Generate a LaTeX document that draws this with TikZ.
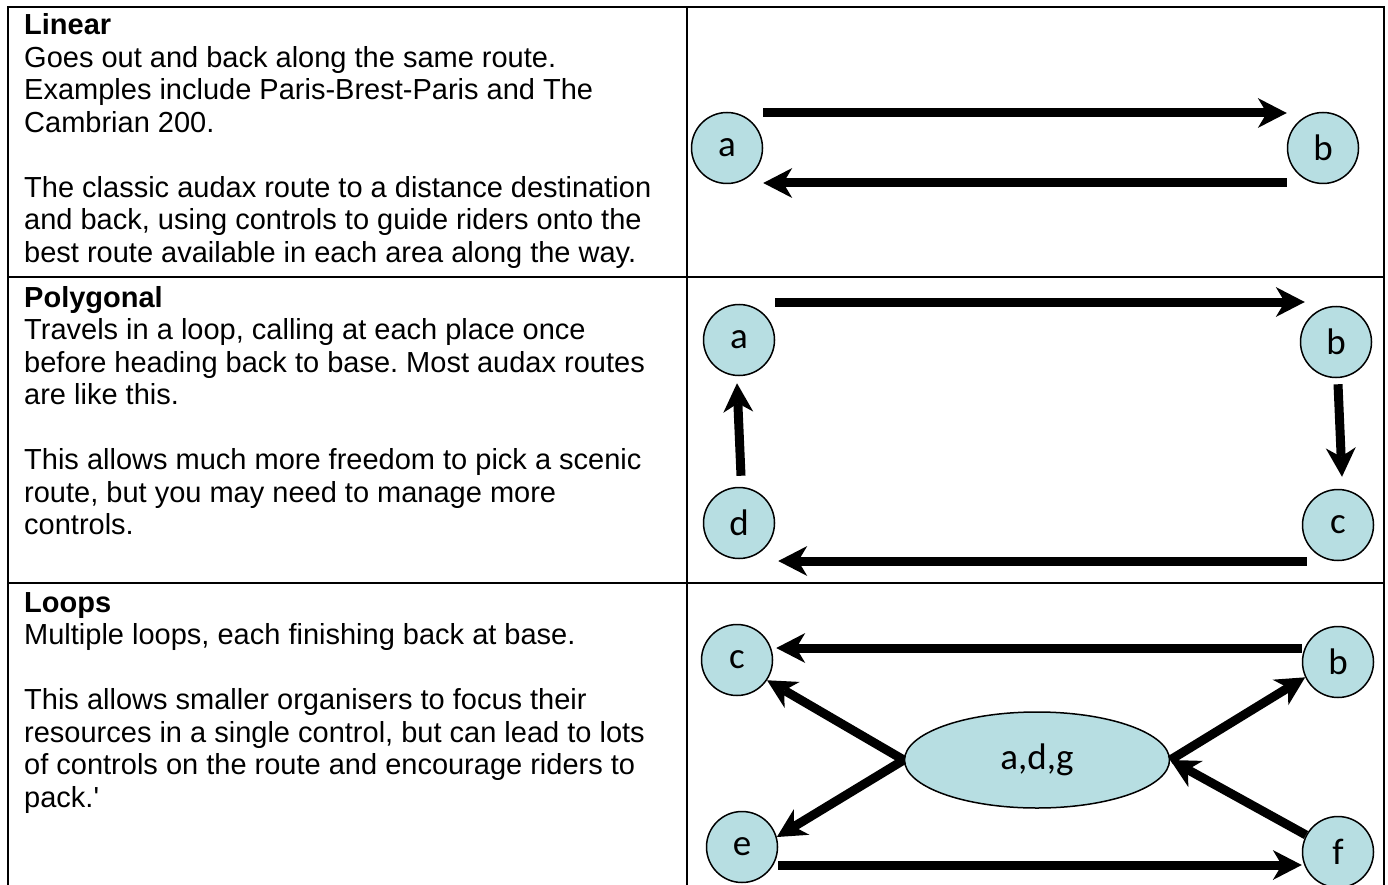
\documentclass[tikz,border=0pt]{standalone}
\usepackage{fontspec}
\setmainfont{Liberation Sans}
\newfontfamily\nodefont{Carlito}
\usetikzlibrary{arrows.meta,shapes.geometric,calc}
\definecolor{nodefill}{RGB}{183,222,226}
\begin{document}
\frenchspacing
\begin{tikzpicture}[x=1pt,y=-1pt,
  grid/.style={line width=2pt,line cap=rect},
  place/.style={circle,draw=black,line width=1.5pt,fill=nodefill,minimum size=71pt,inner sep=0pt,font=\nodefont\fontsize{37}{40}\selectfont},
  hub/.style={ellipse,draw=black,line width=1.5pt,fill=nodefill,minimum width=265pt,minimum height=96pt,inner sep=0pt,font=\nodefont\fontsize{37}{40}\selectfont},
  route/.style={line width=9pt,-{Stealth[length=29pt,width=30pt,inset=9pt,line width=0pt]}},
  celltext/.style={anchor=base west,inner sep=0pt}
]
\useasboundingbox (0,0) rectangle (1388,885);
% table
\draw[grid] (8,7) -- (1384,7);
\draw[grid] (8,277) -- (1384,277);
\draw[grid] (8,583) -- (1384,583);
\draw[grid] (8,7) -- (8,885);
\draw[grid] (687,7) -- (687,885);
\draw[grid] (1384,7) -- (1384,885);
% texts
\node[celltext] (t1) at (24,35) {\parbox[t]{800pt}{\fontsize{29}{32.5}\selectfont\raggedright\frenchspacing
\textbf{Linear}\\
Goes out and back along the same route.\\
Examples include Paris-Brest-Paris and The\\
Cambrian 200.\\[32.5pt]
The classic audax route to a distance destination\\
and back, using controls to guide riders onto the\\
best route available in each area along the way.}};
\node[celltext] (t2) at (24,307) {\parbox[t]{800pt}{\fontsize{29}{32.5}\selectfont\raggedright\frenchspacing
\textbf{Polygonal}\\
Travels in a loop, calling at each place once\\
before heading back to base. Most audax routes\\
are like this.\\[32.5pt]
This allows much more freedom to pick a scenic\\
route, but you may need to manage more\\
controls.}};
\node[celltext] (t3) at (24,612) {\parbox[t]{800pt}{\fontsize{29}{32.5}\selectfont\raggedright\frenchspacing
\textbf{Loops}\\
Multiple loops, each finishing back at base.\\[32.5pt]
This allows smaller organisers to focus their\\
resources in a single control, but can lead to lots\\
of controls on the route and encourage riders to\\
pack.\textquotesingle}};
% Linear
\node[place] (la) at (727,148) {a};
\node[place] (lb) at (1323,148) {b};
\draw[route] ($(la.east)+(0,-35)$) -- ($(lb.west)+(0,-35)$);
\draw[route] ($(lb.west)+(0,35)$) -- ($(la.east)+(0,35)$);
% Polygonal
\node[place] (pa) at (739,340) {a};
\node[place] (pb) at (1336,342) {b};
\node[place] (pc) at (1338,525) {c};
\node[place] (pd) at (739,523) {d};
\draw[route] ($(pa.east)+(0,-38)$) -- ($(pb.west)+(5,-40)$);
\draw[route] ($(pb.south)+(2,6)$) -- ($(pc.north)+(4,-12)$);
\draw[route] ($(pc.west)+(5,36)$) -- ($(pd.east)+(3,38)$);
\draw[route] ($(pd.north)+(2,-11)$) -- ($(pa.south)+(-2,7)$);
% Loops
\node[place] (qc) at (737,660) {c};
\node[place] (qb) at (1338,662) {b};
\node[place] (qe) at (742,847) {e};
\node[place] (qf) at (1338,852) {f};
\node[hub] (m) at (1037,760) {a,d,g};
\draw[route] ($(qb.west)+(0,-14)$) -- ($(qc.east)+(3,-12)$);
\draw[route] (m.west) -- (qc.-34);
\draw[route] (m.west) -- (qe.16);
\draw[route] (m.east) -- (qb.205);
\draw[route] (qf.152) -- (m.east);
\draw[route] ($(qe.east)+(0,18)$) -- ($(qf.west)+(0,13)$);
\end{tikzpicture}
\end{document}
